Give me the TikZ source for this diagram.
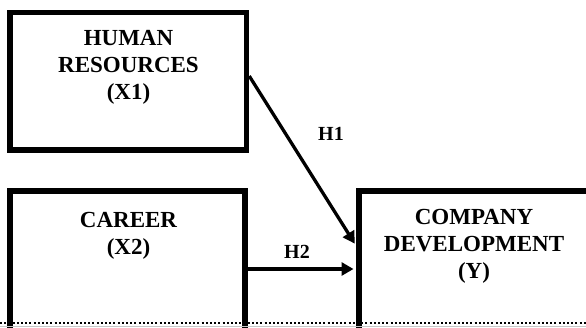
\documentclass[tikz,border=0pt]{standalone}
\usepackage{fontspec}
\setmainfont{Liberation Serif}
\usetikzlibrary{arrows.meta}
\begin{document}
\begin{tikzpicture}[x=1pt,y=-1pt,
  box/.style={draw=black,line width=5.5pt,rectangle,inner sep=0pt,fill=none},
  boxtext/.style={font=\bfseries\fontsize{23}{27}\selectfont,align=center,inner sep=0pt,anchor=north},
  hlabel/.style={font=\bfseries\fontsize{20}{24}\selectfont,inner sep=0pt,anchor=base},
  conn/.style={line width=3.3pt,-{Triangle[length=12pt,width=13pt]},shorten >=2.75pt}]
\useasboundingbox (0,0) rectangle (586,327);
\clip (0,0) rectangle (586,327);
% boxes
\node[box,minimum width=236.5pt,minimum height=137.5pt] (b1) at (128.25,81.25) {};
\node[box,minimum width=235pt,minimum height=200pt] (b2) at (127.5,291) {};
\node[box,minimum width=261pt,minimum height=200pt] (b3) at (489.5,291) {};
% texts
\node[boxtext] (t1) at (128.5,30.5) {HUMAN\\RESOURCES\\(X1)};
\node[boxtext] (t2) at (128.5,212.5) {CAREER\\(X2)};
\node[boxtext] (t3) at (474,209.5) {COMPANY\\DEVELOPMENT\\(Y)};
% connectors
\draw[conn] (b1.east |- 0,76) -- (b3.west |- 0,246);
\draw[conn] (b2.east |- 0,269) -- (b3.west |- 0,269);
\node[hlabel] (h1) at (331,140) {H1};
\node[hlabel] (h2) at (297,258) {H2};
% bottom dotted line
\draw[gray!45,line width=0.8pt] (0,326.4) -- (586,326.4);
\draw[line width=2pt,dash pattern=on 2pt off 2.2pt] (0,323) -- (586,323);
\end{tikzpicture}
\end{document}
